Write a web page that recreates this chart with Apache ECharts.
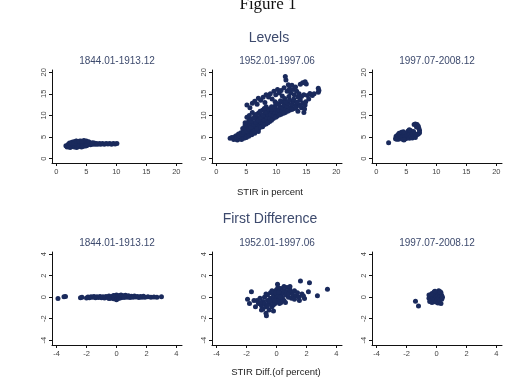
<!DOCTYPE html>
<html>
<head>
<meta charset="utf-8">
<script src="https://cdn.jsdelivr.net/npm/echarts@6/dist/echarts.min.js"></script>
<style>
html, body { margin: 0; padding: 0; background: #fff; }
#figure { width: 524px; height: 387px; }
</style>
</head>
<body>
<div id="figure"></div>
<script>
// panel titles
var periods = ['1844.01-1913.12', '1952.01-1997.06', '1997.07-2008.12'];
var levelTicks = [0, 5, 10, 15, 20];
var diffTicks = [-4, -2, 0, 2, 4];

// Levels: [x, y] in percent
var lev1 = [[1.6,3.0],[1.8,2.7],[2.0,3.3],[2.1,2.9],[2.2,3.6],[2.3,2.6],[2.4,3.1],[2.6,3.8],[2.7,2.8],[2.8,3.3],[2.9,3.9],
  [3.0,2.7],[3.1,3.1],[3.2,3.6],[3.3,4.1],[3.4,2.6],[3.5,3.0],[3.6,3.4],[3.7,3.8],[3.8,2.8],[3.9,3.2],[4.0,4.1],
  [4.1,3.6],[4.2,2.7],[4.3,3.0],[4.4,3.9],[4.5,3.3],[4.6,4.2],[4.7,3.7],[4.8,2.9],[4.9,3.4],[5.0,4.1],[5.1,3.1],
  [5.2,3.7],[5.3,3.3],[5.5,3.7],[5.7,3.2],[5.9,3.5],[6.1,3.3],[6.3,3.6],[6.5,3.3],[6.7,3.5],[6.9,3.3],[7.2,3.5],
  [7.4,3.3],[7.7,3.5],[8.0,3.3],[8.3,3.5],[8.6,3.4],[8.9,3.5],[9.2,3.3],[9.5,3.5],[9.8,3.4],[10.1,3.5],
  [2.5,3.5],[3.0,3.5],[3.4,4.0],[3.8,4.0],[4.2,4.0],[4.4,2.8],[5.0,3.0],[5.4,3.9],[6.0,3.7]];

var lev2 = [[2.3,4.7],[2.6,4.9],[2.9,4.4],[3.0,5.0],[3.2,4.6],[3.3,5.3],[3.5,4.3],[3.6,5.0],[3.7,5.7],[3.9,4.6],
  [4.0,5.3],[4.1,6.0],[4.2,4.4],[4.3,5.0],[4.4,5.6],[4.5,6.3],[4.6,4.7],[4.7,5.3],[4.8,5.9],[4.9,6.6],[5.0,4.9],
  [5.1,5.5],[5.2,6.1],[5.3,6.8],[5.3,7.5],[5.4,5.2],[5.5,5.8],[5.6,6.4],[5.7,7.1],[5.8,7.8],[5.9,5.5],[6.0,6.1],
  [6.1,6.8],[6.2,7.4],[6.3,8.2],[6.4,5.9],[5.0,7.2],[5.2,8.0],[5.4,8.7],[5.6,9.3],[4.8,7.7],[5.1,9.6],[5.5,10.0],
  [6.5,6.6],[6.6,7.3],[6.7,8.0],[6.8,8.8],[6.9,9.5],[7.0,6.3],[7.1,7.0],[7.2,7.7],[7.3,8.5],[7.4,9.2],[7.5,10.0],
  [7.7,7.4],[7.8,8.2],[7.9,9.0],[8.0,9.8],[8.1,10.5],[8.3,8.0],[8.4,8.8],[8.5,9.6],[8.6,10.3],[8.8,11.0],[8.9,8.6],
  [9.0,9.4],[9.1,10.2],[9.3,10.9],[9.5,9.3],[9.6,10.0],[9.7,10.8],[9.9,11.5],[10.1,9.8],[10.2,10.6],[10.4,11.3],
  [10.6,12.0],[10.8,10.3],[10.9,11.0],[11.1,11.7],[11.3,12.4],[11.5,10.7],[11.6,11.4],[11.8,12.1],[12.0,12.8],
  [12.2,11.2],[12.4,11.9],[12.6,12.6],[12.8,13.3],[13.0,11.6],[13.2,12.3],[13.4,13.0],[13.6,11.0],[13.8,12.4],
  [14.0,13.6],[14.2,11.8],[14.4,12.8],[14.6,10.7],[14.7,11.5],[14.8,12.4],[14.9,13.2],
  [3.4,4.9],[3.8,5.3],[4.2,5.7],[4.6,6.1],[5.0,6.4],[5.4,6.9],[5.8,7.2],[6.2,7.9],[6.6,8.4],[7.0,8.9],[7.4,9.6],
  [7.8,10.1],[8.2,10.8],[8.6,11.5],[9.2,11.5],[9.8,12.2],[10.4,12.6],[11.0,13.1],[11.6,13.2],[12.2,13.6],
  [6.3,6.4],[6.8,6.9],[7.4,7.3],[7.9,7.8],[8.6,8.3],[9.2,8.9],[9.9,9.6],[10.5,10.1],[11.2,10.5],[11.9,11.0],
  [12.6,11.4],[13.3,11.8],[14.0,12.2],[4.4,7.0],[4.8,8.3],[5.8,8.6],[6.4,9.8],[7.0,10.5],[7.7,11.2],[8.3,12.0],
  [5.1,12.4],[5.6,11.8],[6.0,12.8],[6.4,13.3],[6.8,12.6],[7.0,14.0],[7.4,13.5],[7.8,14.2],[8.1,13.0],[8.3,14.8],
  [8.7,14.3],[9.0,15.0],[9.3,13.8],[9.6,15.6],[9.9,14.8],[10.2,16.0],[10.5,15.2],[10.8,15.8],[11.0,14.5],
  [11.3,16.4],[11.5,19.0],[11.6,18.2],[11.8,15.6],[12.0,17.1],[12.2,16.2],[12.4,15.2],[12.6,17.0],[12.8,16.0],
  [13.0,14.8],[13.2,16.6],[13.4,15.6],[13.6,14.3],[14.0,17.2],[14.4,17.6],[14.8,17.8],[15.0,17.3],[13.8,15.0],
  [14.2,14.4],[15.2,14.6],[15.4,13.8],[15.6,15.1],[16.0,14.6],[16.3,15.0],[17.0,16.3],[17.1,15.8],[17.0,15.4],
  [9.2,12.0],[10.0,12.8],[10.7,13.4],[11.4,13.9],[12.1,14.4],[8.0,11.6],[7.3,11.0],[6.6,10.2],[6.2,9.3],
  [6.0,10.7],[12.9,13.8],[13.5,13.1],[14.6,14.8],[9.8,13.2]];

var lev3 = [[2.05,3.65],[3.2,4.6],[3.3,5.2],[3.5,4.8],[3.6,5.5],[3.7,4.5],[3.8,5.9],[3.9,5.1],[4.0,4.7],[4.1,5.6],
  [4.2,6.1],[4.3,5.0],[4.4,4.5],[4.5,5.4],[4.6,5.9],[4.7,4.8],[4.8,5.2],[4.9,4.6],[5.0,5.6],[5.1,6.0],[5.2,5.0],
  [5.3,6.4],[5.4,5.4],[5.5,4.7],[5.6,5.8],[5.7,6.5],[5.8,5.2],[5.9,6.1],[6.0,4.8],[6.1,5.6],[6.2,6.3],[6.3,5.1],
  [6.4,5.8],[6.5,4.9],[6.6,5.4],[6.8,5.6],[7.0,5.7],[7.2,6.0],[7.2,6.5],[7.1,7.0],[7.0,7.5],[6.8,7.9],[6.5,8.0],
  [6.3,7.9],[6.7,7.3],[5.5,6.7],[4.5,6.2],[3.4,4.5],[4.6,4.3]];

// First differences: [x, y] in percentage points
var dif1 = [[-3.9,-0.12],[-3.5,0.03],[-3.4,0.06],[-2.4,-0.05],[-2.3,0.0],[-2.0,-0.08],[-1.9,0.02],[-1.8,-0.05],
  [-1.7,0.04],[-1.6,-0.02],[-1.5,0.06],[-1.4,-0.06],[-1.3,0.03],[-1.2,-0.03],[-1.1,0.07],[-1.0,-0.05],[-0.9,0.04],
  [-0.8,-0.08],[-0.7,0.06],[-0.6,-0.03],[-0.5,0.1],[-0.4,-0.1],[-0.3,0.05],[-0.2,-0.15],[-0.1,0.12],[0.0,-0.25],
  [0.0,0.2],[0.05,-0.05],[0.1,0.08],[0.15,-0.12],[0.2,0.15],[0.3,-0.06],[0.4,0.1],[0.5,-0.03],[0.6,0.18],[0.7,0.0],
  [0.8,0.12],[0.9,-0.04],[1.0,0.08],[1.1,-0.02],[1.2,0.1],[1.3,0.02],[1.4,0.06],[1.5,-0.03],[1.6,0.05],[1.7,0.0],
  [1.8,0.08],[1.9,-0.02],[2.1,0.03],[2.3,0.0],[2.5,0.02],[2.7,-0.01],[3.0,0.03],[-0.5,-0.12],[0.3,0.2],[-0.2,0.15],
  [0.5,0.14]];

var dif2 = [[-1.67,0.5],[-1.93,-0.2],[-1.8,-0.6],[-0.67,-1.73],[-0.7,-1.5],[0.07,1.2],[1.6,1.5],[2.2,1.35],
  [3.4,0.74],[2.73,0.13],[2.13,0.5],[1.87,-0.13],[1.53,-0.3],[-0.2,-1.3],
  [-1.3,-0.3],[-1.2,-0.6],[-1.1,-0.1],[-1.0,-0.8],[-0.9,-0.4],[-0.9,-1.1],[-0.8,0.0],[-0.8,-0.6],[-0.7,-0.9],
  [-0.6,-0.3],[-0.6,0.2],[-0.5,-0.6],[-0.5,-1.2],[-0.4,-0.1],[-0.4,0.4],[-0.3,-0.4],[-0.3,-0.9],[-0.2,0.1],
  [-0.2,0.5],[-0.1,-0.2],[-0.1,-0.6],[0.0,0.3],[0.0,0.7],[0.0,-0.1],[0.1,-0.4],[0.1,0.1],[0.2,0.5],[0.2,-0.2],
  [0.3,0.2],[0.3,0.8],[0.4,-0.1],[0.4,0.4],[0.5,0.6],[0.5,-0.3],[0.6,0.2],[0.7,0.9],[0.7,0.5],[0.8,0.0],[0.8,0.3],
  [0.9,0.7],[1.0,0.4],[1.0,-0.1],[1.1,0.2],[1.2,0.6],[1.3,0.1],[1.4,0.4],[1.5,0.0],[1.7,0.3],[1.8,0.1],[-1.5,-0.3],
  [-1.4,-0.9],[-1.0,-1.2],[-0.6,-0.8],[-0.2,-0.7],[0.2,-0.6],[0.6,-0.5],[-0.3,0.6],[0.1,0.9],[0.5,1.0],[0.9,1.0],
  [-0.7,0.3],[-1.1,-0.5],[0.3,-0.5],[-0.05,0.4],[0.15,0.45],[-0.15,-0.3],[0.25,0.0],[-0.45,-0.35],[1.2,-0.2]];

var dif3 = [[-1.4,-0.37],[-1.2,-0.83],[-0.5,0.2],[-0.5,-0.1],[-0.45,-0.4],[-0.4,0.1],[-0.35,-0.25],[-0.3,0.35],
  [-0.3,-0.5],[-0.25,0.0],[-0.2,-0.3],[-0.2,0.25],[-0.15,0.5],[-0.1,-0.15],[-0.1,0.15],[-0.05,-0.45],[0.0,0.3],
  [0.0,0.0],[0.05,-0.25],[0.05,0.45],[0.1,0.1],[0.1,-0.55],[0.15,0.6],[0.15,-0.1],[0.2,0.3],[0.2,-0.35],[0.25,0.05],
  [0.3,-0.6],[0.3,0.4],[0.35,-0.2],[0.35,0.15],[0.4,0.0],[-0.1,0.55],[0.25,0.5],[-0.35,0.25]];

var dom = document.getElementById("figure");
var myChart = echarts.init(dom, null, {renderer: 'canvas'});
var option = null;

var navy = '#1a2a5c';
var slate = '#3d4a6d';
var lefts = [52, 212, 372];
var grids = [], xAxes = [], yAxes = [], series = [], texts = [];
var panels = [
    {data: lev1, row: 0}, {data: lev2, row: 0}, {data: lev3, row: 0},
    {data: dif1, row: 1}, {data: dif2, row: 1}, {data: dif3, row: 1}
];

function axisCommon(ticks, min, max, isY) {
    return {
        type: 'value',
        min: min,
        max: max,
        axisLine: {show: true, onZero: false, lineStyle: {color: '#111', width: 1}},
        axisTick: {show: true, length: 3, customValues: ticks, lineStyle: {color: '#111'}},
        axisLabel: {
            customValues: ticks,
            fontSize: 7.5,
            color: '#444',
            fontFamily: 'Liberation Sans, Arial, sans-serif',
            margin: isY ? 4 : 5,
            rotate: isY ? 90 : 0
        },
        splitLine: {show: false}
    };
}

panels.forEach(function (p, i) {
    var col = i % 3;
    var top = p.row === 0 ? 70 : 252;
    grids.push({left: lefts[col], top: top, width: 130, height: 93});
    var xa, ya;
    if (p.row === 0) {
        xa = axisCommon(levelTicks, -0.72, 20.95, false);
        ya = axisCommon(levelTicks, -1.02, 20.53, true);
    } else {
        xa = axisCommon(diffTicks, -4.3, 4.37, false);
        ya = axisCommon(diffTicks, -4.46, 4.21, true);
    }
    xa.gridIndex = i;
    ya.gridIndex = i;
    xAxes.push(xa);
    yAxes.push(ya);
    series.push({
        type: 'scatter',
        xAxisIndex: i,
        yAxisIndex: i,
        symbol: 'circle',
        symbolSize: 5,
        itemStyle: {color: navy, opacity: 1},
        data: p.data
    });
    texts.push({
        type: 'text',
        x: lefts[col] + 65,
        y: p.row === 0 ? 61 : 243,
        style: {
            text: periods[col],
            fill: slate,
            font: '10px "Liberation Sans", Arial, sans-serif',
            textAlign: 'center',
            textVerticalAlign: 'middle'
        }
    });
});

texts.push(
    {type: 'text', x: 268, y: 5, style: {text: 'Figure 1', fill: '#111',
        font: '17px "Liberation Serif", "Times New Roman", serif', textAlign: 'center', textVerticalAlign: 'middle'}},
    {type: 'text', x: 269, y: 38, style: {text: 'Levels', fill: slate,
        font: '14px "Liberation Sans", Arial, sans-serif', textAlign: 'center', textVerticalAlign: 'middle'}},
    {type: 'text', x: 270, y: 192, style: {text: 'STIR in percent', fill: '#222',
        font: '9.5px "Liberation Sans", Arial, sans-serif', textAlign: 'center', textVerticalAlign: 'middle'}},
    {type: 'text', x: 270, y: 219, style: {text: 'First Difference', fill: slate,
        font: '14px "Liberation Sans", Arial, sans-serif', textAlign: 'center', textVerticalAlign: 'middle'}},
    {type: 'text', x: 276, y: 372, style: {text: 'STIR Diff.(of percent)', fill: '#222',
        font: '9.5px "Liberation Sans", Arial, sans-serif', textAlign: 'center', textVerticalAlign: 'middle'}}
);

option = {
    animation: false,
    backgroundColor: '#fff',
    grid: grids,
    xAxis: xAxes,
    yAxis: yAxes,
    series: series,
    graphic: {elements: texts}
};

if (option && typeof option === "object") {
    myChart.setOption(option, true);
}
</script>
</body>
</html>
